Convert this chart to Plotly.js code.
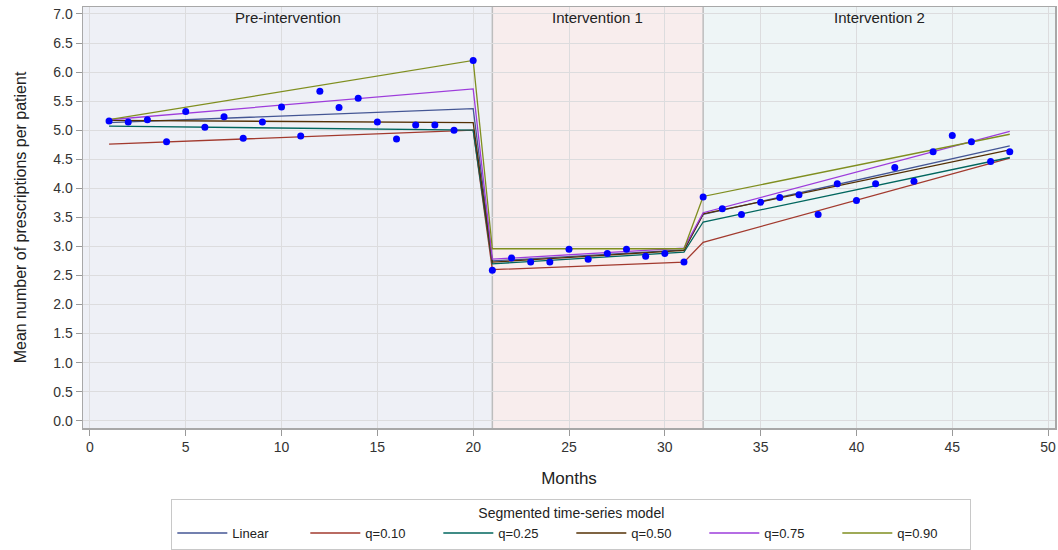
<!DOCTYPE html>
<html>
<head>
<meta charset="utf-8">
<script src="https://cdn.plot.ly/plotly-3.0.1.min.js"></script>
<style>html,body{margin:0;padding:0;background:#fff;}#chart{width:1058px;height:550px;}</style>
</head>
<body>
<div id="chart"></div>
<script>
// Observed monthly means
const months = [1,2,3,4,5,6,7,8,9,10,11,12,13,14,15,16,17,18,19,20,21,22,23,24,25,26,27,28,29,30,31,32,33,34,35,36,37,38,39,40,41,42,43,44,45,46,47,48];
const observed = [5.16,5.14,5.18,4.80,5.32,5.05,5.23,4.86,5.14,5.40,4.90,5.67,5.39,5.55,5.14,4.85,5.09,5.09,5.00,6.20,
                  2.59,2.80,2.73,2.73,2.95,2.78,2.88,2.95,2.83,2.88,2.73,
                  3.85,3.65,3.55,3.76,3.84,3.89,3.55,4.08,3.79,4.08,4.36,4.12,4.63,4.91,4.80,4.46,4.63];

// Segmented model fits at segment breakpoints
const fitMonths = [1,20,21,31,32,48];
const linearFit = [5.13,5.37,2.75,2.94,3.55,4.73];
const q10Fit    = [4.76,5.00,2.60,2.73,3.07,4.52];
const q25Fit    = [5.07,5.00,2.70,2.90,3.42,4.53];
const q50Fit    = [5.17,5.13,2.73,2.93,3.56,4.66];
const q75Fit    = [5.18,5.71,2.78,2.97,3.58,4.98];
const q90Fit    = [5.18,6.20,2.96,2.96,3.86,4.93];

const modelNames  = ["Linear","q=0.10","q=0.25","q=0.50","q=0.75","q=0.90"];
const modelFits   = [linearFit,q10Fit,q25Fit,q50Fit,q75Fit,q90Fit];
const modelColors = ["#445694","#A23A2E","#01665E","#543005","#9D3CDB","#7F8E1F"];

const phaseNames = ["Pre-intervention","Intervention 1","Intervention 2"];
const phaseStart = [-0.36,21,32];
const phaseEnd   = [21,32,50.36];
const phaseFill  = ["#EEF0F6","#F8EDED","#EEF5F6"];

const traces = modelNames.map((n,i)=>({
  x: fitMonths, y: modelFits[i], type:'scatter', mode:'lines', name:n,
  line:{color:modelColors[i], width:1.3}
}));
traces.push({
  x: months, y: observed, type:'scatter', mode:'markers', showlegend:false,
  marker:{color:'#0000FF', size:7}
});

const shapes = phaseNames.map((n,i)=>({
  type:'rect', xref:'x', yref:'paper', x0:phaseStart[i], x1:phaseEnd[i], y0:0, y1:1,
  fillcolor:phaseFill[i], line:{width:0}, layer:'below'
}));
[21,32].forEach(v=>shapes.push({type:'line', xref:'x', yref:'paper', x0:v, x1:v, y0:0, y1:1,
  line:{color:'#BDBDBD', width:1.5}, layer:'below'}));

const annotations = phaseNames.map((n,i)=>({
  text:n, xref:'x', yref:'paper', x:(phaseStart[i]+phaseEnd[i])/2, y:1.0,
  xanchor:'center', yanchor:'top', showarrow:false,
  font:{family:'Liberation Sans, Arial, sans-serif', size:15, color:'#222'}
}));

const layout = {
  width:1058, height:550,
  margin:{l:83, r:3, t:7, b:122},
  paper_bgcolor:'#fff', plot_bgcolor:'#fff',
  font:{family:'Liberation Sans, Arial, sans-serif', color:'#333'},
  xaxis:{
    range:[-0.36,50.36], tickvals:[0,5,10,15,20,25,30,35,40,45,50],
    ticks:'outside', ticklen:6, tickcolor:'#999', showgrid:true, gridcolor:'#DCDCDE', gridwidth:1,
    showline:true, linecolor:'#A8A8A8', linewidth:1.5, mirror:true, zeroline:false,
    tickfont:{size:14, color:'#333'},
    title:{text:'Months', font:{size:17, color:'#222'}, standoff:18}
  },
  yaxis:{
    range:[-0.125,7.12], tickvals:[0,0.5,1,1.5,2,2.5,3,3.5,4,4.5,5,5.5,6,6.5,7],
    tickformat:'.1f',
    ticks:'outside', ticklen:6, tickcolor:'#999', showgrid:true, gridcolor:'#DCDCDE', gridwidth:1,
    showline:true, linecolor:'#A8A8A8', linewidth:1.5, mirror:true, zeroline:false,
    tickfont:{size:14, color:'#333'},
    title:{text:'Mean number of prescriptions per patient', font:{size:16, color:'#222'}, standoff:22}
  },
  shapes:shapes, annotations:annotations,
  showlegend:true,
  legend:{
    orientation:'h', xref:'container', yref:'container', x:0.54, xanchor:'center', y:0.093, yanchor:'top',
    bordercolor:'#C8C8C8', borderwidth:1, bgcolor:'#fff',
    title:{text:'Segmented time-series model', side:'top center', font:{size:14, color:'#222'}},
    font:{size:13, color:'#222'}, itemwidth:50, entrywidth:68, entrywidthmode:'pixels', tracegroupgap:0
  }
};

Plotly.newPlot('chart', traces, layout, {displayModeBar:false, staticPlot:true});
</script>
</body>
</html>
